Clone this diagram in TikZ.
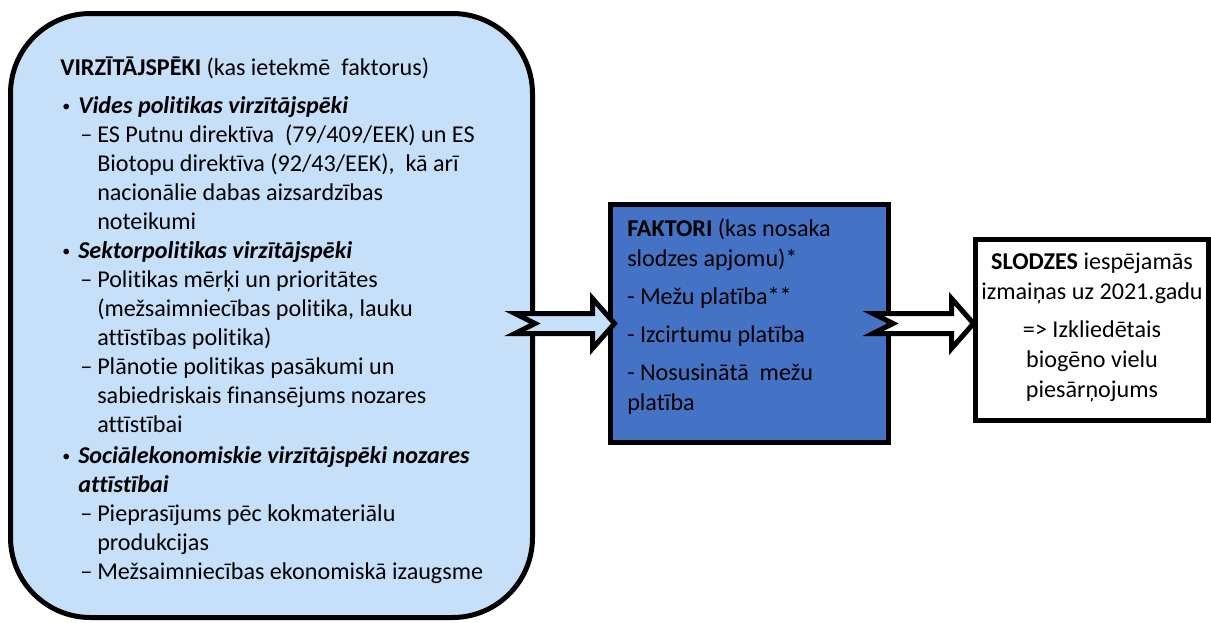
\documentclass[tikz,border=0pt]{standalone}
\usepackage{fontspec}
\setmainfont[Ligatures={TeX,NoCommon}]{Carlito}
\usetikzlibrary{calc}

\definecolor{drvblue}{RGB}{199,224,250}
\definecolor{facblue}{RGB}{68,114,196}

\newcommand{\drvitem}[1]{\makebox[13.5pt][l]{\hspace{1.5pt}\raisebox{1.6pt}{\fontsize{12}{12}\selectfont\textbullet}}\textbf{\textit{#1}}}
\newcommand{\drvsub}[1]{\hspace*{15pt}\makebox[12.75pt][l]{--}#1}
\newcommand{\drvcont}[1]{\hspace*{27.75pt}#1}

\begin{document}
\begin{tikzpicture}[
  x=0.75pt, y=-0.75pt,
  box/.style={draw, line width=3.75pt, inner sep=0pt},
  txt/.style={font=\fontsize{18.1}{21.75}\selectfont, inner sep=0pt},
  wtxt/.style={font=\fontsize{18.1}{22.5}\selectfont, inner sep=0pt},
  blockarrow/.style={draw, line width=3.75pt, to path={
    let \p1=(\tikztostart), \p2=(\tikztotarget) in
    (\x1,\y1+7.5pt) -- (\x2-16.5pt,\y1+7.5pt) -- (\x2-16.5pt,\y1+18.75pt)
    -- (\x2,\y1) -- (\x2-16.5pt,\y1-18.75pt) -- (\x2-16.5pt,\y1-7.5pt)
    -- (\x1,\y1-7.5pt) -- (\x1+15pt,\y1) -- cycle}}
]
\useasboundingbox (0,0) rectangle (1211,622);

\node[box, rounded corners=60pt, fill=drvblue, minimum width=391.5pt, minimum height=453pt] (drivers) at (271.5,315.5) {};
\node[box, fill=facblue, minimum width=208.5pt, minimum height=178.5pt] (factors) at (749.5,323.5) {};
\node[box, fill=white, minimum width=174.75pt, minimum height=135.75pt] (pressures) at (1092,330) {};

\node[txt, align=left, anchor=north west] (drvtext) at (60,57) {%
\textbf{VIRZĪTĀJSPĒKI} (kas ietekmē\ \ faktorus)\\[6.75pt]
\drvitem{Vides politikas virzītājspēki}\\
\drvsub{ES Putnu direktīva\ \ (79/409/EEK) un ES}\\
\drvcont{Biotopu direktīva (92/43/EEK),\ \ kā arī}\\
\drvcont{nacionālie dabas aizsardzības}\\
\drvcont{noteikumi}\\
\drvitem{Sektorpolitikas virzītājspēki}\\
\drvsub{Politikas mērķi un prioritātes}\\
\drvcont{(mežsaimniecības politika, lauku}\\
\drvcont{attīstības politika)}\\
\drvsub{Plānotie politikas pasākumi un}\\
\drvcont{sabiedriskais finansējums nozares}\\
\drvcont{attīstībai}\\[1.5pt]
\drvitem{Sociālekonomiskie virzītājspēki nozares}\\
\hspace*{13.5pt}\textbf{\textit{attīstībai}}\\
\drvsub{Pieprasījums pēc kokmateriālu}\\
\drvcont{produkcijas}\\
\drvsub{Mežsaimniecības ekonomiskā izaugsme}};

\node[wtxt, align=left, anchor=north west] (factext) at (627,219) {%
\textbf{FAKTORI} (kas nosaka\\
slodzes apjomu)*\\[6pt]
- Mežu platība**\\[6pt]
- Izcirtumu platība\\[6pt]
- Nosusinātā\ \ mežu\\
platība};

\node[wtxt, align=center, anchor=north] (prstext) at (1092,253) {%
\textbf{SLODZES} iespējamās\\
izmaiņas uz 2021.gadu\\[6pt]
=> Izkliedētais\\
biogēno vielu\\
piesārņojums};

\coordinate (tail1) at ($(drivers.east |- factors.west)+(-20,0)$);
\coordinate (tip1) at ($(factors.west)+(6.5,0)$);
\coordinate (tail2) at ($(factors.east)+(-18,0)$);
\coordinate (tip2) at ($(pressures.west |- factors.east)+(0.5,0)$);

\draw[blockarrow, fill=drvblue] (tail1) to (tip1);
\draw[blockarrow, fill=white] (tail2) to (tip2);
\end{tikzpicture}
\end{document}
